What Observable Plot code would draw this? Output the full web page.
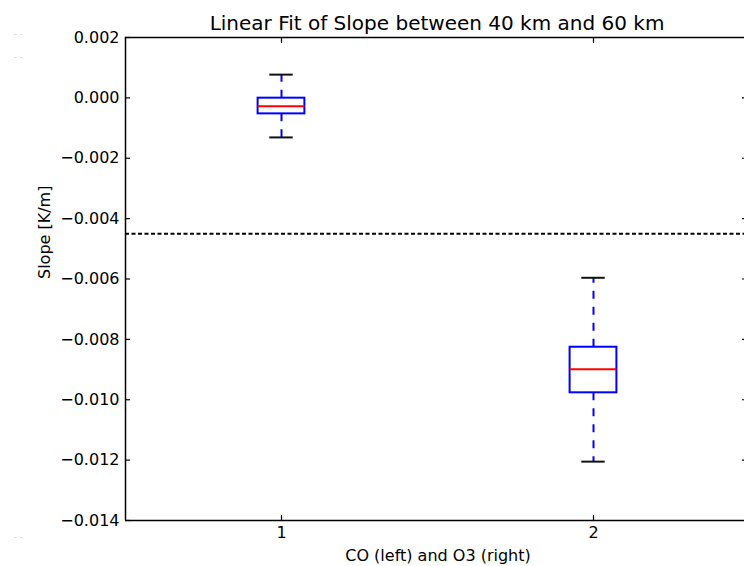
<!DOCTYPE html>
<html><head><meta charset="utf-8">
<script src="https://cdn.jsdelivr.net/npm/d3@7"></script>
<script src="https://cdn.jsdelivr.net/npm/@observablehq/plot@0.6"></script>
<style>html,body{margin:0;padding:0;background:#fff;overflow:hidden}</style>
</head><body><div id="chart"></div>
<script>
const title = "Linear Fit of Slope between 40 km and 60 km";
const xLabel = "CO (left) and O3 (right)";
const yLabel = "Slope [K/m]";
const positions = [1, 2];
const xTickLabels = ["1", "2"];
const whiskerLow = [-0.00131, -0.01205];
const q1 = [-0.00053, -0.00977];
const median = [-0.00028, -0.00899];
const q3 = [-0.00001, -0.00826];
const whiskerHigh = [0.00077, -0.00596];
const threshold = -0.0045;
const yTicks = [0.002, 0, -0.002, -0.004, -0.006, -0.008, -0.010, -0.012, -0.014];
const ghostMark = "- -";

const boxes = positions.map((p, i) => ({pos: p, lo: whiskerLow[i], q1: q1[i], med: median[i], q3: q3[i], hi: whiskerHigh[i]}));
const BOX_HALF = 0.075, CAP_HALF = 0.0375;
const BLUE = "#0000ff", RED = "#ff0000";
const fmt = d3.format(".3f");
const ghost = (dy) => Plot.text([ghostMark], {text: d => d, frameAnchor: "top-left", lineAnchor: "middle", dx: -112, dy, fontSize: 9, fill: "#d4d4d4"});

const chart = Plot.plot({
  width: 744,
  height: 566,
  marginTop: 37,
  marginBottom: 46,
  marginLeft: 125,
  marginRight: 0,
  style: {fontFamily: "DejaVu Sans", fontSize: "16px", color: "black", background: "white", overflow: "hidden"},
  x: {type: "linear", domain: [0.5, 2.5], range: [125, 749]},
  y: {domain: [-0.014, 0.002]},
  marks: [
    // threshold
    Plot.ruleY([threshold], {stroke: "black", strokeWidth: 2, strokeDasharray: "4,2.5"}),
    // whiskers
    Plot.ruleX(boxes, {x: "pos", y1: "q3", y2: "hi", stroke: BLUE, strokeWidth: 2, strokeDasharray: "8,8"}),
    Plot.ruleX(boxes, {x: "pos", y1: "q1", y2: "lo", stroke: BLUE, strokeWidth: 2, strokeDasharray: "8,8"}),
    // boxes
    Plot.rect(boxes, {x1: d => d.pos - BOX_HALF, x2: d => d.pos + BOX_HALF, y1: "q1", y2: "q3", fill: "none", stroke: BLUE, strokeWidth: 2}),
    // medians
    Plot.ruleY(boxes, {y: "med", x1: d => d.pos - BOX_HALF, x2: d => d.pos + BOX_HALF, stroke: RED, strokeWidth: 2}),
    // caps
    Plot.ruleY(boxes, {y: "hi", x1: d => d.pos - CAP_HALF, x2: d => d.pos + CAP_HALF, stroke: "#111", strokeWidth: 2}),
    Plot.ruleY(boxes, {y: "lo", x1: d => d.pos - CAP_HALF, x2: d => d.pos + CAP_HALF, stroke: "#111", strokeWidth: 2}),
    // spines
    Plot.ruleY([0.002, -0.014], {stroke: "black", strokeWidth: 1.5}),
    Plot.ruleX([0.5], {y1: -0.014, y2: 0.002, stroke: "black", strokeWidth: 1.5}),
    // inward ticks
    Plot.axisY({anchor: "left", ticks: yTicks, tickSize: 5, dx: 5, text: null, strokeWidth: 1.2, label: null}),
    Plot.axisY({anchor: "right", ticks: yTicks, tickSize: 3, dx: -3, text: null, strokeWidth: 1.2, label: null}),
    Plot.axisX({anchor: "bottom", ticks: positions, tickSize: 5, dy: -5, text: null, strokeWidth: 1.2, label: null}),
    Plot.axisX({anchor: "top", ticks: positions, tickSize: 5, dy: 5, text: null, strokeWidth: 1.2, label: null}),
    // tick labels
    Plot.axisY({anchor: "left", ticks: yTicks, tickSize: 0, tickPadding: 6, tickFormat: fmt, label: null, fontSize: 16}),
    Plot.axisX({anchor: "bottom", ticks: positions, tickSize: 0, tickPadding: 6, tickFormat: (d, i) => xTickLabels[i], label: null, fontSize: 16}),
    // title and labels
    Plot.text([title], {text: d => d, frameAnchor: "top", lineAnchor: "middle", dx: 2, dy: -14, fontSize: 20, fill: "black"}),
    Plot.text([xLabel], {text: d => d, frameAnchor: "bottom", lineAnchor: "middle", dx: 3, dy: 35, fontSize: 16, fill: "black"}),
    Plot.text([yLabel], {text: d => d, frameAnchor: "left", dx: -81, rotate: -90, fontSize: 16, fill: "black"}),
    // faint artifacts at left edge
    ghost(-3), ghost(20), ghost(500)
  ]
});
document.getElementById("chart").appendChild(chart);
</script>
</body></html>
